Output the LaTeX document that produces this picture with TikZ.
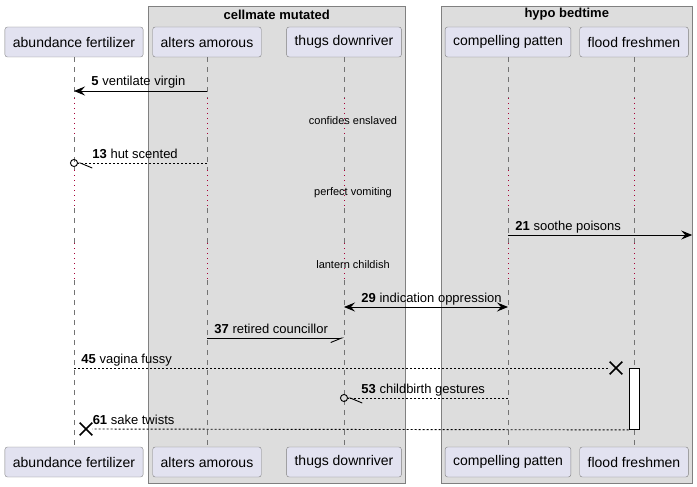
\documentclass[tikz,border=0pt]{standalone}
\usepackage{fontspec}
\setmainfont{Liberation Sans}
\usepackage{tikz}
\usetikzlibrary{arrows.meta,shapes.misc}

\definecolor{partfill}{HTML}{E2E2F0}
\definecolor{grpfill}{HTML}{DDDDDD}
\definecolor{delayred}{HTML}{A80036}

\tikzset{
  party/.style={draw=black!50, fill=partfill, rounded corners=2.5pt,
    minimum height=30pt, inner xsep=8pt, inner ysep=0pt,
    font=\fontsize{14}{16}\selectfont},
  grpbox/.style={draw=black!50, fill=grpfill, inner sep=0pt},
  grptitle/.style={font=\fontsize{13}{15}\selectfont\bfseries, inner sep=0pt},
  life/.style={black!55, line width=0.8pt, dash pattern=on 5pt off 5pt},
  delayed/.style={delayred, line width=0.8pt, dash pattern=on 1pt off 4pt},
  delaytext/.style={font=\fontsize{11}{13}\selectfont, inner sep=0pt},
  msg/.style={line width=0.9pt},
  reply/.style={msg, dash pattern=on 2pt off 2pt},
  lbl/.style={font=\fontsize{13}{15}\selectfont, inner sep=0pt,
    anchor=base west, yshift=5pt},
  killx/.style={cross out, draw, line width=1.6pt, minimum size=11pt, inner sep=0pt},
  actbox/.style={draw, fill=white, line width=0.9pt, minimum width=10pt,
    minimum height=61pt, inner sep=0pt},
  full/.style={-{Stealth[length=11pt, width=9pt, inset=4pt]}},
  halfup/.style={-{Straight Barb[harpoon, swap, length=11pt, width=9pt]}},
  halfo/.style={shorten >=-4pt, -{Straight Barb[harpoon, length=12pt, width=10pt, sep=0pt]
      Circle[open, length=8pt, width=8pt, sep=0pt]}}
}

\begin{document}
\begin{tikzpicture}[x=1pt, y=-1pt]

  \useasboundingbox (0,0) rectangle (697,487);

  \newcommand\YTOP{42}
  \newcommand\YBOT{462}

  % groups
  \node[grpbox, minimum width=256.5pt, minimum height=477pt] (cellmate) at (276.75,244.5) {};
  \node[grptitle] at (cellmate.north |- 0,14.5) {cellmate mutated};
  \node[grpbox, minimum width=250.5pt, minimum height=477pt] (hypo) at (566.75,244.5) {};
  \node[grptitle] at (hypo.north |- 0,14.5) {hypo bedtime};

  % participants
  \node[party] (fert)   at (74,\YTOP)  {abundance fertilizer};
  \node[party] (alters) at (207,\YTOP) {alters amorous};
  \node[party] (thugs)  at (344,\YTOP) {thugs downriver};
  \node[party] (patten) at (508,\YTOP) {compelling patten};
  \node[party] (flood)  at (634,\YTOP) {flood freshmen};

  \node[party] (fert-b)   at (74,\YBOT)  {abundance fertilizer};
  \node[party] (alters-b) at (207,\YBOT) {alters amorous};
  \node[party] (thugs-b)  at (344,\YBOT) {thugs downriver};
  \node[party] (patten-b) at (508,\YBOT) {compelling patten};
  \node[party] (flood-b)  at (634,\YBOT) {flood freshmen};

  \coordinate (d1s) at (0,98);  \coordinate (d1e) at (0,137);
  \coordinate (d2s) at (0,170); \coordinate (d2e) at (0,208);
  \coordinate (d3s) at (0,243); \coordinate (d3e) at (0,280);

  \foreach \p in {fert,alters,thugs,patten,flood}{
    \draw[life] (\p.south) -- (\p |- d1s) (\p |- d1e) -- (\p |- d2s)
      (\p |- d2e) -- (\p |- d3s) (\p |- d3e) -- (\p-b.north);
    \draw[delayed] (\p |- d1s) -- (\p |- d1e) (\p |- d2s) -- (\p |- d2e)
      (\p |- d3s) -- (\p |- d3e);
  }

  \node[delaytext] (delay1) at (353,121) {confides enslaved};
  \node[delaytext] (delay2) at (353,193) {perfect vomiting};
  \node[delaytext] (delay3) at (353,265) {lantern childish};

  % message rows
  \coordinate (r5)  at (0,91);
  \coordinate (r13) at (0,163);
  \coordinate (r21) at (0,235);
  \coordinate (r29) at (0,307);
  \coordinate (r37) at (0,338);
  \coordinate (r45) at (0,368);
  \coordinate (r53) at (0,398);
  \coordinate (r61) at (0,429);

  \node[actbox, anchor=north] (act) at (flood |- r45) {};
  \node[killx] (x45) at (616,368) {};
  \node[killx] (x61) at (86,429) {};

  \draw[msg, full] (alters |- r5) -- (fert |- r5)
    node[lbl, at end, xshift=17pt] {\textbf{5} ventilate virgin};
  \draw[reply, halfo] (alters |- r13) -- (fert |- r13)
    node[lbl, at end, xshift=18pt] {\textbf{13} hut scented};
  \draw[msg, full] (patten |- r21) -- (hypo.east |- r21)
    node[lbl, at start, xshift=7pt] {\textbf{21} soothe poisons};
  \draw[msg, {Stealth[length=11pt, width=9pt, inset=4pt]}-{Stealth[length=11pt, width=9pt, inset=4pt]}]
    (thugs |- r29) -- (patten |- r29)
    node[lbl, at start, xshift=17pt] {\textbf{29} indication oppression};
  \draw[msg, halfup] (alters |- r37) -- (thugs |- r37)
    node[lbl, at start, xshift=7pt] {\textbf{37} retired councillor};
  \draw[reply] (fert |- r45) -- (x45)
    node[lbl, at start, xshift=7pt] {\textbf{45} vagina fussy};
  \draw[reply, halfo] (patten |- r53) -- (thugs |- r53)
    node[lbl, at end, xshift=17pt] {\textbf{53} childbirth gestures};
  \draw[reply] (act.south west) -- (x61)
    node[lbl, at end, xshift=0pt] {\textbf{61} sake twists};

\end{tikzpicture}
\end{document}
